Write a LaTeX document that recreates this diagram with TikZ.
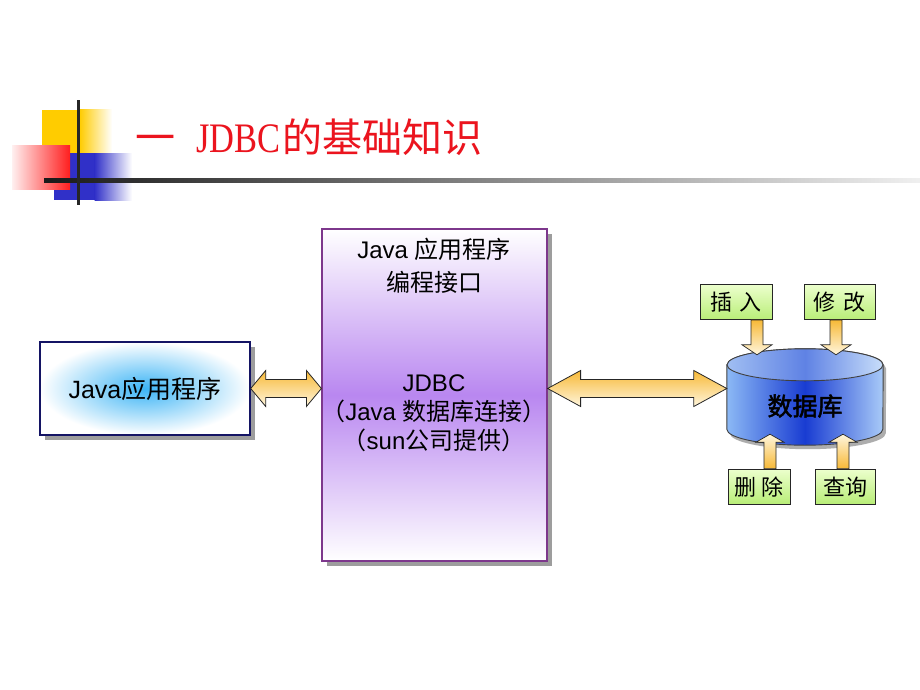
\documentclass[tikz,border=0pt]{standalone}
\usepackage{fontspec}
\setmainfont{Liberation Sans}
\newfontfamily\cjk{Noto Sans CJK SC}
\newfontfamily\cjkb[FakeBold=2]{Noto Sans CJK SC}
\newfontfamily\titleserif[FakeStretch=0.82]{Liberation Serif}
\usetikzlibrary{calc,shadows}
\definecolor{decoyellow}{RGB}{255,204,0}
\definecolor{decoblue}{RGB}{48,48,200}
\definecolor{decored}{RGB}{255,30,30}
\definecolor{titlered}{RGB}{235,20,30}
\definecolor{appnavy}{RGB}{20,20,100}
\definecolor{appblue}{RGB}{60,180,245}
\definecolor{jdbcpurple}{RGB}{125,55,140}
\definecolor{jdbcmid}{RGB}{185,135,240}
\definecolor{arrorange}{RGB}{247,185,55}
\definecolor{arrlight}{RGB}{255,246,222}
\definecolor{cyllight}{RGB}{140,185,245}
\definecolor{cyldark}{RGB}{25,60,210}
\definecolor{cyltopl}{RGB}{160,190,242}
\definecolor{cyltopm}{RGB}{95,130,228}
\definecolor{cyltopr}{RGB}{200,222,250}
\definecolor{opgreenT}{RGB}{236,255,205}
\definecolor{opgreenB}{RGB}{185,238,120}
\newcommand\hdarrow[4]{%
  \path[bigarrow] let \p1=(#1), \p2=(#2), \p3=(#3) in
  (\x1,\y3) -- (\x1+#4,\y3+18pt) -- (\x1+#4,\y3+9pt) -- (\x2-#4,\y3+9pt)
  -- (\x2-#4,\y3+18pt) -- (\x2,\y3) -- (\x2-#4,\y3-18pt) -- (\x2-#4,\y3-9pt)
  -- (\x1+#4,\y3-9pt) -- (\x1+#4,\y3-18pt) -- cycle;}
\newcommand\dnarrow[3]{%
  \path[smallarrow,top color=arrorange,bottom color=arrlight] let \p1=(#1), \p2=(#2) in
  (\x1+#3-6pt,\y1) -- (\x1+#3-6pt,\y2+4pt) -- (\x1+#3-15pt,\y2+4pt) -- (\x1+#3,\y2-6pt)
  -- (\x1+#3+15pt,\y2+4pt) -- (\x1+#3+6pt,\y2+4pt) -- (\x1+#3+6pt,\y1) -- cycle;}
\newcommand\uparrowshape[3]{%
  \path[smallarrow,bottom color=arrorange,top color=arrlight] let \p1=(#1), \p2=(#2) in
  (\x1+#3-6pt,\y1) -- (\x1+#3-6pt,\y2+3pt) -- (\x1+#3-14pt,\y2+3pt) -- (\x1+#3,\y2+11pt)
  -- (\x1+#3+14pt,\y2+3pt) -- (\x1+#3+6pt,\y2+3pt) -- (\x1+#3+6pt,\y1) -- cycle;}
\begin{document}
\begin{tikzpicture}[x=1pt,y=-1pt,
  boxshadow/.style={drop shadow={shadow xshift=5pt,shadow yshift=-5pt,fill=black!45,opacity=0.85}},
  appbox/.style={draw=appnavy,line width=1.4pt,minimum width=210pt,minimum height=93pt,inner sep=0pt,
    inner color=appblue,outer color=white,boxshadow,font=\fontsize{25}{30}\selectfont},
  jdbcbox/.style={draw=jdbcpurple,line width=1.2pt,minimum width=225pt,minimum height=332pt,inner sep=0pt,
    top color=white,bottom color=white,middle color=jdbcmid,boxshadow},
  txt/.style={inner sep=0pt,text height=20pt,text depth=2pt,font=\fontsize{24}{28}\selectfont},
  opbox/.style={draw=black!85,line width=0.8pt,minimum height=35pt,inner sep=0pt,
    top color=opgreenT,bottom color=opgreenB,font=\cjk\fontsize{22}{26}\selectfont,text height=19pt,text depth=2pt},
  bigarrow/.style={draw=black!85,line width=0.8pt,top color=arrorange,bottom color=arrlight},
  smallarrow/.style={draw=black!85,line width=0.7pt}]
\useasboundingbox (0,0) rectangle (920,690);
\fill[white] (0,0) rectangle (920,690);
% title decoration
\fill[decoyellow] (42,110) rectangle (80,153);
\shade[left color=decoyellow,right color=white] (79.5,110) rectangle (112,153);
\fill[decoblue] (54,153) rectangle (95,200);
\shade[left color=decoblue,right color=white] (94.5,153) rectangle (132,200);
\shade[left color=red!6,right color=decored] (12,145) rectangle (70,189);
\shade[left color=black!90,right color=black!6] (44,178.5) rectangle (920,182);
\fill[black!85] (76.5,100) rectangle (79.5,205);
\node[anchor=base west,text=titlered,font=\fontsize{40}{48}\selectfont,inner sep=0pt] (title) at (135,152)
  {\cjk 一\hspace{21pt}{\titleserif\fontsize{42}{48}\selectfont JDBC}\hspace{2pt}的基础知识};
% boxes
\node[appbox] (app) at (145,388.5) {Java{\cjk 应用程序}};
\node[jdbcbox] (jdbc) at (434.5,395) {};
\node[txt] (jt1) at (434,249) {Java {\cjk 应用程序}};
\node[txt] (jt2) at (434,282) {\cjk 编程接口};
\node[txt] (jt3) at (434,382) {JDBC};
\node[txt] (jt4) at (434,411) {{\cjk （}Java {\cjk 数据库连接）}};
\node[txt] (jt5) at (434,440) {{\cjk （}sun{\cjk 公司提供）}};
% database cylinder
\node[minimum width=156pt,minimum height=96pt,inner sep=0pt] (db) at (805,397) {};
\path[draw=black!75,line width=0.9pt,left color=cyllight,right color=cyllight!75!white,middle color=cyldark,
  drop shadow={shadow xshift=3pt,shadow yshift=-4pt,fill=black!40,opacity=0.8}]
  let \p1=(db.north west), \p2=(db.south east) in
  (\x1,\y1-16pt) -- (\x1,\y2+16pt) arc[start angle=180,end angle=360,x radius=78pt,y radius=16pt]
  -- (\x2,\y1-16pt) arc[start angle=0,end angle=180,x radius=78pt,y radius=16pt] -- cycle;
\path[draw=black!75,line width=0.9pt,left color=cyltopl,right color=cyltopr,middle color=cyltopm]
  ($(db.north)+(0,16)$) ellipse[x radius=78pt,y radius=16pt];
\node[inner sep=0pt,font=\cjkb\fontsize{25}{30}\selectfont,text height=21pt,text depth=2pt] (dblabel) at (805,406) {数据库};
% operation boxes
\node[opbox,minimum width=72pt] (ins) at (736,302) {插\hspace{8pt}入};
\node[opbox,minimum width=71pt] (mod) at (839.5,302) {修\hspace{8pt}改};
\node[opbox,minimum width=62pt] (del) at (759,486.5) {删\hspace{6pt}除};
\node[opbox,minimum width=60pt] (qry) at (845,486.5) {查询};
% arrows
\hdarrow{app.east}{jdbc.west}{app.east}{15pt}
\hdarrow{jdbc.east}{db.west}{app.east}{33pt}
\dnarrow{ins.south}{db.north}{21pt}
\dnarrow{mod.south}{db.north}{0pt-3.5pt}
\uparrowshape{del.north}{db.south}{11pt}
\uparrowshape{qry.north}{db.south}{0pt-2pt}
\end{tikzpicture}
\end{document}
